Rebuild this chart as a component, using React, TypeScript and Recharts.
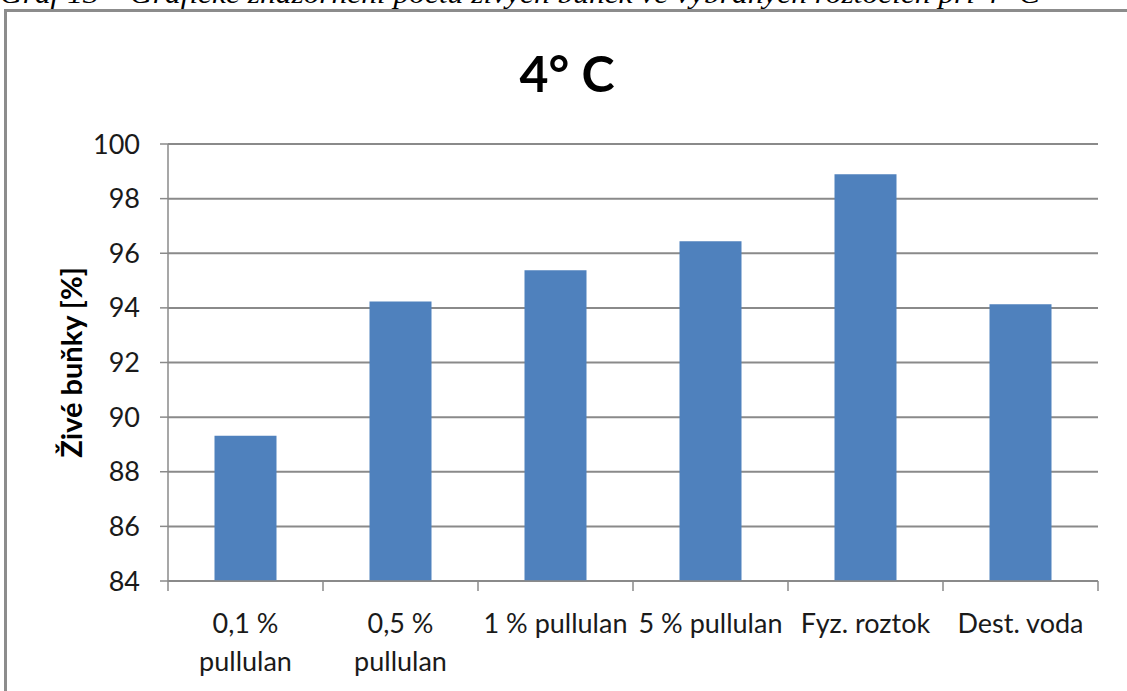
import React from 'react'
import { BarChart, Bar, XAxis, YAxis, CartesianGrid } from 'recharts'

const categories = ['0,1 % pullulan', '0,5 % pullulan', '1 % pullulan', '5 % pullulan', 'Fyz. roztok', 'Dest. voda']
// wrapped x labels, as in the original
const labelLines = [['0,1 %', 'pullulan'], ['0,5 %', 'pullulan'], ['1 % pullulan'], ['5 % pullulan'], ['Fyz. roztok'], ['Dest. voda']]
const liveCells = [89.32, 94.23, 95.38, 96.44, 98.89, 94.13]
const yTicks = [84, 86, 88, 90, 92, 94, 96, 98, 100]

const W = 1127
const H = 691
const X_AXIS_H = 110
const M = { top: 144, right: 29, bottom: 0, left: 0 }
const Y_AXIS_W = 168
const BAND = (W - M.right - Y_AXIS_W) / categories.length
const AXIS_Y = H - X_AXIS_H
const FONT = 'Lato, "Noto Sans", sans-serif'
const GRID = '#8a8a8a'

const data = categories.map((name, i) => ({ name, value: liveCells[i] }))

function XTick(props: any) {
  const { x, index, payload } = props
  const lines: string[] = labelLines[index] ?? [payload.value]
  const left = x - BAND / 2
  return (
    <g>
      <line x1={left} x2={left} y1={AXIS_Y} y2={AXIS_Y + 10} stroke={GRID} strokeWidth={1.5} />
      {index === categories.length - 1 && (
        <line x1={left + BAND} x2={left + BAND} y1={AXIS_Y} y2={AXIS_Y + 10} stroke={GRID} strokeWidth={1.5} />
      )}
      {lines.map((l, k) => (
        <text key={k} x={x} y={AXIS_Y + 52 + k * 38} textAnchor="middle" fontSize={27} fill="#1a1a1a" fontFamily={FONT}>
          {l}
        </text>
      ))}
    </g>
  )
}

export default function App() {
  return (
    <div style={{ position: 'absolute', left: 0, top: 0, width: W, height: H, overflow: 'hidden', background: '#fff' }}>
      <svg width={W} height={20} style={{ position: 'absolute', left: 0, top: 0 }}>
        <text x={0} y={3} fontSize={28} fontStyle="italic" fontFamily='"Liberation Serif", serif' fill="#000" textLength={1040} lengthAdjust="spacingAndGlyphs">
          Graf 13 – Grafické znázornění počtu živých buněk ve vybraných roztocích při 4° C
        </text>
      </svg>
      <div
        style={{
          position: 'absolute', left: 4, top: 9, width: W, height: H,
          borderLeft: '3px solid #8c8c8c', borderTop: '3px solid #8c8c8c',
        }}
      />
      <div style={{ position: 'absolute', left: 0, top: 0 }}>
        <BarChart width={W} height={H} data={data} margin={M} barCategoryGap="30%">
          <text x={567} y={92} textAnchor="middle" fontSize={50} fontWeight={700} fontFamily={FONT} fill="#000">
            4° C
          </text>
          <CartesianGrid vertical={false} stroke={GRID} strokeWidth={2} />
          <XAxis
            dataKey="name"
            interval={0}
            tickLine={false}
            axisLine={{ stroke: GRID, strokeWidth: 1.5 }}
            tick={<XTick />}
            height={X_AXIS_H}
          />
          <YAxis
            domain={[84, 100]}
            ticks={yTicks}
            width={Y_AXIS_W}
            tickSize={8}
            tickMargin={20}
            axisLine={{ stroke: GRID, strokeWidth: 1.5 }}
            tickLine={{ stroke: GRID, strokeWidth: 1.5 }}
            tick={{ fontSize: 27, fill: '#1a1a1a', fontFamily: FONT }}
            label={{
              value: 'Živé buňky [%]', angle: -90, position: 'insideLeft', offset: 72,
              style: { fontSize: 29, fontWeight: 700, fill: '#000', fontFamily: FONT, textAnchor: 'middle' },
            }}
          />
          <Bar dataKey="value" fill="#4F81BD" isAnimationActive={false} />
        </BarChart>
      </div>
    </div>
  )
}
